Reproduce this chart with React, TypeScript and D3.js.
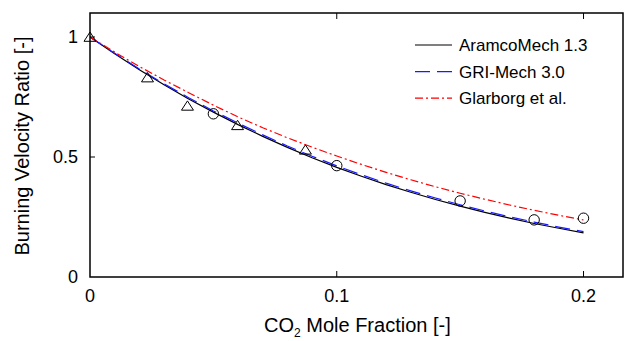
import React from 'react';
import * as d3 from 'd3';

// CO2 mole fraction grid used by the simulated curves
const xGrid = [0, 0.01, 0.02, 0.03, 0.04, 0.05, 0.06, 0.07, 0.08, 0.09, 0.1,
  0.11, 0.12, 0.13, 0.14, 0.15, 0.16, 0.17, 0.18, 0.19, 0.2];

const aramco = [1, 0.930, 0.864, 0.801, 0.742, 0.687, 0.635, 0.586, 0.540, 0.497, 0.457,
  0.420, 0.385, 0.353, 0.323, 0.295, 0.269, 0.245, 0.223, 0.203, 0.184];
const gri = [1, 0.932, 0.867, 0.805, 0.747, 0.692, 0.641, 0.592, 0.546, 0.503, 0.463,
  0.426, 0.391, 0.359, 0.329, 0.301, 0.275, 0.251, 0.229, 0.208, 0.189];
const glarborg = [1, 0.937, 0.877, 0.821, 0.768, 0.716, 0.667, 0.622, 0.580, 0.541, 0.504,
  0.469, 0.436, 0.405, 0.376, 0.349, 0.324, 0.300, 0.278, 0.257, 0.2375];

// experimental points
const triX = [0, 0.0233, 0.0395, 0.0598, 0.0873];
const triY = [1.0, 0.831, 0.713, 0.632, 0.530];
const circX = [0.05, 0.1, 0.15, 0.18, 0.2];
const circY = [0.68, 0.464, 0.317, 0.238, 0.245];

const xTicks = [0, 0.1, 0.2];
const yTicks = [0, 0.5, 1];

const seriesNames = ['AramcoMech 1.3', 'GRI-Mech 3.0', 'Glarborg et al.'];
const seriesColors = ['#000000', '#1a1aff', '#ff0000'];
const seriesDash = ['none', '15,7', '8,3,2,3'];

const W = 624;
const H = 341;
const m = { left: 90, right: 1, top: 13, bottom: 64 };
const FONT = '"Liberation Sans", Arial, sans-serif';

export default function App() {
  const x = d3.scaleLinear().domain([0, 0.216]).range([m.left, W - m.right]);
  const y = d3.scaleLinear().domain([0, 1.1]).range([H - m.bottom, m.top]);
  const line = d3.line<number>().x((_, i) => x(xGrid[i])).y(d => y(d));
  const allSeries = [aramco, gri, glarborg];
  const x0 = x.range()[0], x1 = x.range()[1];
  const y0 = y.range()[0], y1 = y.range()[1];

  return (
    <div style={{ position: 'fixed', left: 0, top: 0 }}>
      <svg width={W} height={H} style={{ display: 'block', background: '#fff' }} fontFamily={FONT}>
        <defs>
          <clipPath id="plotclip">
            <rect x={x0} y={y1} width={x1 - x0} height={y0 - y1} />
          </clipPath>
        </defs>

        {/* curves */}
        <g clipPath="url(#plotclip)">
          {allSeries.map((s, i) => (
            <path key={i} d={line(s) || ''} fill="none" stroke={seriesColors[i]}
              strokeWidth={1.2} strokeDasharray={seriesDash[i]} />
          ))}
        </g>

        {/* markers */}
        {triX.map((v, i) => {
          const cx = x(v), cy = y(triY[i]);
          return (
            <path key={'t' + i}
              d={`M${cx - 6},${cy + 4.3}L${cx + 6},${cy + 4.3}L${cx},${cy - 5}Z`}
              fill="none" stroke="#000" strokeWidth={1} />
          );
        })}
        {circX.map((v, i) => (
          <circle key={'c' + i} cx={x(v)} cy={y(circY[i])} r={5.2}
            fill="none" stroke="#000" strokeWidth={1} />
        ))}

        {/* frame */}
        <rect x={x0} y={y1} width={x1 - x0} height={y0 - y1} fill="none" stroke="#000" strokeWidth={1.5} />

        {/* ticks */}
        {xTicks.filter(t => t > 0).map(t => (
          <g key={'xt' + t}>
            <line x1={x(t)} x2={x(t)} y1={y0} y2={y0 - 6} stroke="#000" strokeWidth={1} />
            <line x1={x(t)} x2={x(t)} y1={y1} y2={y1 + 6} stroke="#000" strokeWidth={1} />
          </g>
        ))}
        {yTicks.filter(t => t > 0).map(t => (
          <g key={'yt' + t}>
            <line x1={x0} x2={x0 + 5} y1={y(t)} y2={y(t)} stroke="#000" strokeWidth={1} />
          </g>
        ))}

        {/* tick labels */}
        {xTicks.map(t => (
          <text key={'xl' + t} x={x(t)} y={y0 + 25} textAnchor="middle" fontSize={18} fill="#000">
            {String(t)}
          </text>
        ))}
        {yTicks.map(t => (
          <text key={'yl' + t} x={x0 - 12} y={y(t)} dy="0.35em" textAnchor="end" fontSize={18} fill="#000">
            {String(t)}
          </text>
        ))}

        {/* axis titles */}
        <text x={264} y={332} fontSize={20} fill="#000">
          CO<tspan fontSize={12} dy={5}>2</tspan><tspan dy={-5}> Mole Fraction [-]</tspan>
        </text>
        <text transform={`translate(29,146) rotate(-90)`} textAnchor="middle" fontSize={20} fill="#000">
          Burning Velocity Ratio [-]
        </text>

        {/* legend */}
        {seriesNames.map((name, i) => {
          const ly = 45 + i * 26.6;
          return (
            <g key={'lg' + i}>
              <line x1={415} x2={452} y1={ly} y2={ly} stroke={seriesColors[i]} strokeWidth={1.2}
                strokeDasharray={seriesDash[i]} />
              <text x={459} y={ly} dy="0.35em" fontSize={17} fill="#000">{name}</text>
            </g>
          );
        })}
      </svg>
    </div>
  );
}
